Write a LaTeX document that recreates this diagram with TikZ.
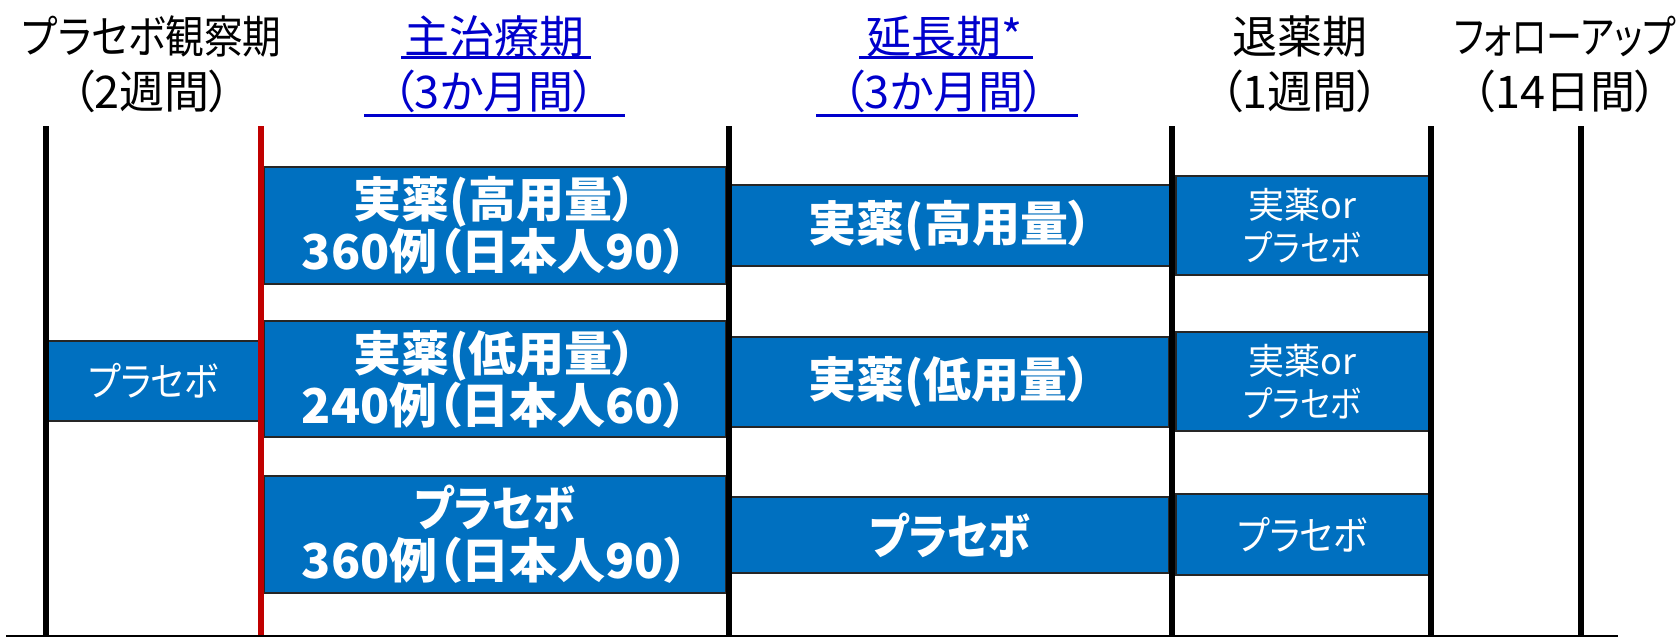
\documentclass[tikz,border=0pt]{standalone}
\usepackage{fontspec}
\setmainfont{Noto Sans CJK JP}[RawFeature=+palt]
\newfontfamily\kana{Noto Sans CJK JP}[RawFeature=+palt, FakeStretch=0.88]
\newfontfamily\hkana{Noto Sans CJK JP}[RawFeature=+palt, FakeStretch=0.86]
\newfontfamily\fkana{Noto Sans CJK JP}[RawFeature=+palt, FakeStretch=0.80]
\definecolor{boxblue}{RGB}{0,112,192}
\definecolor{linkblue}{RGB}{0,0,204}
\definecolor{redline}{RGB}{192,0,0}
\newcommand\armbox[7]{\node[armstyle,#7, minimum width={(#4-#2)*0.5pt}, minimum height={(#5-#3)*0.5pt}] (#1) at ({(#2+#4)/2},{(#3+#5)/2}) {#6};}
\begin{document}
\begin{tikzpicture}[x=0.5pt,y=-0.5pt,
  armstyle/.style={draw=black!85, line width=0.75pt, fill=boxblue, text=white, inner sep=0pt, align=center},
  boldtext/.style={font=\bfseries\fontsize{24}{26}\selectfont},
  lighttext/.style={font=\fontsize{18}{21.5}\selectfont},
  midtext/.style={font=\fontsize{20}{24}\selectfont},
  hdr/.style={align=center, inner sep=0pt, font=\fontsize{22.5}{27.5}\selectfont},
  linkhdr/.style={hdr, text=linkblue},
  ulink/.style={draw=linkblue, line width=1.5pt},
  phase/.style={draw=black, line width=3pt},
  startline/.style={draw=redline, line width=2.6pt}]
\useasboundingbox (0,0) rectangle (1679,637);
% headers
\node[hdr] (h1) at (152,64) {{\hkana プラセボ観察期}\\（2週間）};
\node[linkhdr] (h2) at (494,64) {主治療期\\（3か月間）};
\node[linkhdr] (h3) at (944,64) {延長期*\\（3か月間）};
\node[hdr] (h4) at (1300,64) {退薬期\\（1週間）};
\node[hdr] (h5) at (1565,64) {{\fkana フォローアップ}\\（14日間）};
\draw[ulink] (401,57) -- (591,57);
\draw[ulink] (364,115) -- (625,115);
\draw[ulink] (859,57) -- (1033,57);
\draw[ulink] (816,115) -- (1078,115);
% boxes
\armbox{p0}{48}{341}{259}{421}{\kana プラセボ}{midtext}
\armbox{m1}{264}{167}{726}{284}{実薬(高用量）\\360例（日本人90）}{boldtext}
\armbox{m2}{264}{321}{726}{437}{実薬(低用量）\\240例（日本人60）}{boldtext}
\armbox{m3}{264}{476}{726}{593}{{\kana プラセボ}\\360例（日本人90）}{boldtext}
\armbox{e1}{731}{185}{1170}{266}{実薬(高用量）}{boldtext}
\armbox{e2}{731}{337}{1169}{427}{実薬(低用量）}{boldtext}
\armbox{e3}{731}{497}{1169}{573}{\kana プラセボ}{boldtext}
\armbox{w1}{1176}{176}{1429}{275}{実薬or\\{\kana プラセボ}}{lighttext}
\armbox{w2}{1176}{332}{1429}{431}{実薬or\\{\kana プラセボ}}{lighttext}
\armbox{w3}{1176}{494}{1429}{575}{\kana プラセボ}{midtext}
% phase lines
\draw[phase] (46,126) -- (46,637);
\draw[startline] (261,126) -- (261,637);
\draw[phase] (729,126) -- (729,637);
\draw[phase] (1172,126) -- (1172,637);
\draw[phase] (1431,126) -- (1431,637);
\draw[phase] (1581,126) -- (1581,637);
\draw[draw=black, line width=0.6pt] (6,636) -- (1618,636);
\end{tikzpicture}
\end{document}
